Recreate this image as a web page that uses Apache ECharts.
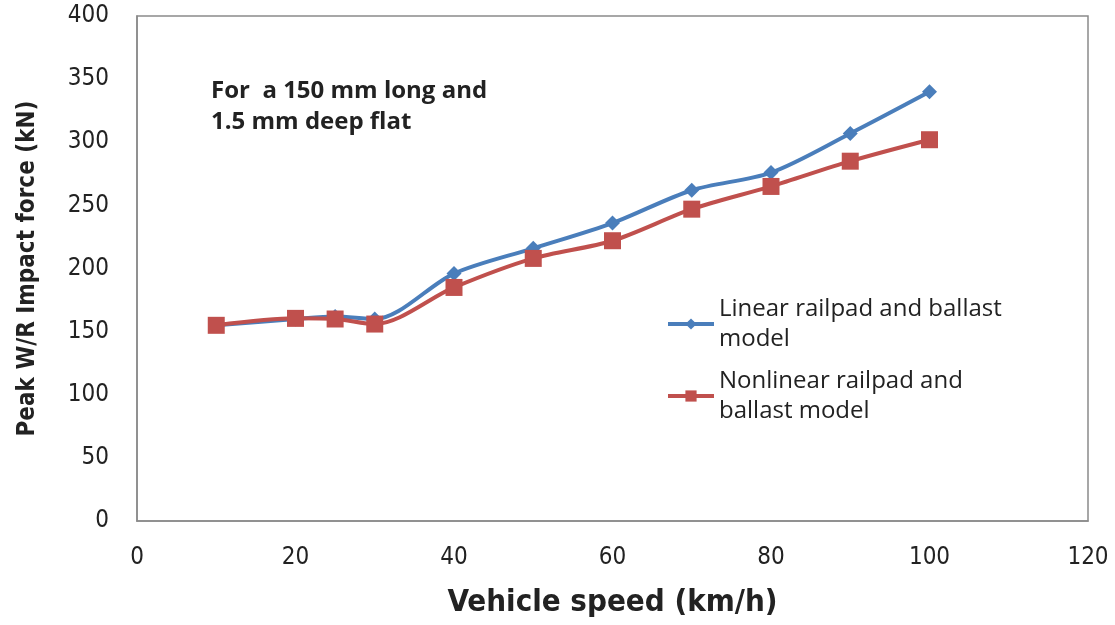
<!DOCTYPE html>
<html>
<head>
<meta charset="utf-8">
<script src="https://cdn.jsdelivr.net/npm/echarts@6/dist/echarts.min.js"></script>
<style>
html,body{margin:0;padding:0;background:#fff;}
#chart{width:1115px;height:625px;}
</style>
</head>
<body>
<div id="chart"></div>
<script>
const speeds = [10, 20, 25, 30, 40, 50, 60, 70, 80, 90, 100];
const linearModel = [155, 160, 162, 160, 196, 216, 236, 262, 276, 307, 340];
const nonlinearModel = [155, 160.5, 160, 156, 185, 208, 222, 247, 265, 285, 302];
const seriesNames = ['Linear railpad and ballast\nmodel', 'Nonlinear railpad and\nballast model'];
const noteText = 'For  a 150 mm long and\n1.5 mm deep flat';

const narrow = '"Liberation Sans Narrow", "DejaVu Sans Condensed", "Open Sans", sans-serif';
const chart = echarts.init(document.getElementById('chart'));
chart.setOption({
  animation: false,
  backgroundColor: '#fff',
  grid: { left: 137, right: 27, top: 16, bottom: 104, show: true, borderColor: '#8a8a8a', borderWidth: 1.5, backgroundColor: 'transparent' },
  xAxis: {
    type: 'value', min: 0, max: 120, interval: 20,
    name: 'Vehicle speed (km/h)', nameLocation: 'middle', nameGap: 66,
    nameTextStyle: { fontFamily: narrow, fontWeight: 'bold', fontSize: 31, color: '#222' },
    axisLine: { show: true, lineStyle: { color: '#8a8a8a', width: 1.5 } },
    axisTick: { show: false },
    splitLine: { show: false },
    axisLabel: { margin: 25, fontFamily: narrow, fontSize: 24, color: '#222' }
  },
  yAxis: {
    type: 'value', min: 0, max: 400, interval: 50,
    name: 'Peak W/R Impact force (kN)', nameLocation: 'middle', nameGap: 97, nameRotate: 90,
    nameTextStyle: { fontFamily: narrow, fontWeight: 'bold', fontSize: 24, color: '#222' },
    axisLine: { show: true, lineStyle: { color: '#8a8a8a', width: 1.5 } },
    axisTick: { show: false },
    splitLine: { show: false },
    axisLabel: { margin: 28, fontFamily: narrow, fontSize: 24, color: '#222' }
  },
  legend: {
    orient: 'vertical', left: 661, top: 289, itemWidth: 46, itemHeight: 14, itemGap: 12,
    lineStyle: { width: 4 },
    textStyle: { fontFamily: '"Open Sans", "Noto Sans", sans-serif', fontSize: 24, color: '#222', lineHeight: 30 },
    data: seriesNames
  },
  graphic: [{
    type: 'text', left: 211, top: 76,
    style: { text: noteText, font: 'bold 24px "Open Sans", "Noto Sans", sans-serif', fill: '#222', lineHeight: 31 }
  }],
  series: [
    {
      name: seriesNames[0], type: 'line', smooth: 0.3,
      data: speeds.map((s, i) => [s, linearModel[i]]),
      symbol: 'diamond', symbolSize: 15,
      lineStyle: { color: '#4a7ebb', width: 4 },
      itemStyle: { color: '#4a7ebb' }, z: 2
    },
    {
      name: seriesNames[1], type: 'line', smooth: 0.3,
      data: speeds.map((s, i) => [s, nonlinearModel[i]]),
      symbol: 'rect', symbolSize: 17,
      lineStyle: { color: '#c0504d', width: 4 },
      itemStyle: { color: '#c0504d' }, z: 3
    }
  ]
});
</script>
</body>
</html>
